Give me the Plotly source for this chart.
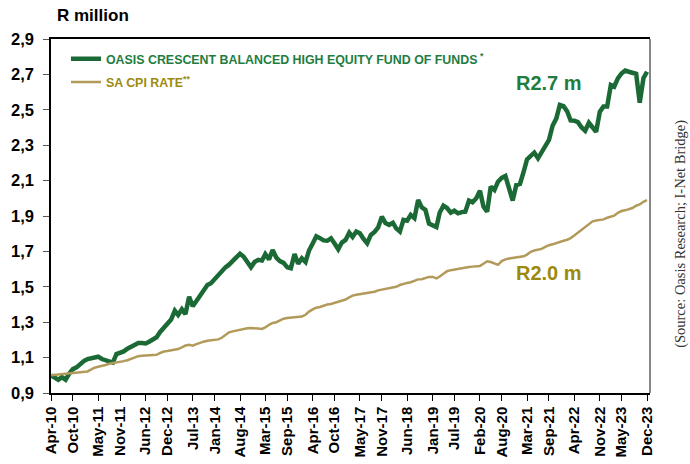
import plotly.graph_objects as go
import pandas as pd

months = pd.date_range("2010-04-01", "2023-12-01", freq="MS")

fund_values = [
    1.000, 0.985, 0.975, 0.990, 0.975, 1.010, 1.035, 1.045, 1.065, 1.080,
    1.092, 1.098, 1.102, 1.105, 1.092, 1.086, 1.078, 1.072, 1.120, 1.128,
    1.135, 1.150, 1.160, 1.172, 1.183, 1.182, 1.180, 1.190, 1.200, 1.215,
    1.245, 1.270, 1.290, 1.315, 1.365, 1.341, 1.373, 1.346, 1.444, 1.390,
    1.420, 1.450, 1.480, 1.510, 1.520, 1.545, 1.567, 1.585, 1.610, 1.625,
    1.645, 1.660, 1.687, 1.670, 1.640, 1.610, 1.640, 1.652, 1.648, 1.685,
    1.655, 1.708, 1.665, 1.645, 1.635, 1.610, 1.605, 1.685, 1.630, 1.661,
    1.640, 1.705, 1.745, 1.785, 1.775, 1.762, 1.760, 1.774, 1.745, 1.712,
    1.750, 1.765, 1.806, 1.782, 1.812, 1.802, 1.770, 1.746, 1.793, 1.810,
    1.835, 1.896, 1.860, 1.850, 1.862, 1.830, 1.812, 1.878, 1.873, 1.906,
    1.888, 1.990, 1.949, 1.934, 1.857, 1.845, 1.838, 1.920, 1.958, 1.945,
    1.919, 1.930, 1.915, 1.922, 1.924, 1.987, 1.978, 2.000, 2.043, 1.953,
    1.924, 2.066, 2.047, 2.094, 2.115, 2.126, 2.056, 1.987, 2.075, 2.081,
    2.150, 2.220, 2.240, 2.258, 2.226, 2.260, 2.290, 2.330, 2.410, 2.450,
    2.527, 2.520, 2.490, 2.440, 2.438, 2.430, 2.400, 2.382, 2.427, 2.405,
    2.376, 2.490, 2.518, 2.518, 2.640, 2.631, 2.678, 2.705, 2.722, 2.715,
    2.706, 2.703, 2.540, 2.678, 2.715,
]

cpi_values = [
    1.000, 1.002, 1.004, 1.005, 1.006, 1.008, 1.010, 1.012, 1.014, 1.018,
    1.022, 1.032, 1.043, 1.048, 1.052, 1.058, 1.065, 1.068, 1.072, 1.076,
    1.080, 1.085, 1.092, 1.100, 1.108, 1.110, 1.111, 1.113, 1.114, 1.116,
    1.126, 1.134, 1.137, 1.140, 1.145, 1.148, 1.158, 1.168, 1.172, 1.167,
    1.176, 1.185, 1.190, 1.195, 1.197, 1.200, 1.203, 1.212, 1.228, 1.243,
    1.248, 1.252, 1.258, 1.264, 1.266, 1.267, 1.267, 1.264, 1.262, 1.270,
    1.285, 1.296, 1.300, 1.310, 1.320, 1.324, 1.326, 1.328, 1.330, 1.332,
    1.342, 1.360, 1.372, 1.382, 1.386, 1.395, 1.400, 1.403, 1.410, 1.416,
    1.420, 1.428, 1.440, 1.450, 1.455, 1.458, 1.462, 1.465, 1.467, 1.472,
    1.480, 1.484, 1.488, 1.492, 1.494, 1.500, 1.510, 1.518, 1.522, 1.526,
    1.535, 1.542, 1.543, 1.550, 1.556, 1.556, 1.548, 1.558, 1.572, 1.588,
    1.594, 1.598, 1.602, 1.604, 1.608, 1.612, 1.614, 1.616, 1.618, 1.630,
    1.644, 1.640, 1.630, 1.624, 1.645, 1.655, 1.660, 1.662, 1.665, 1.668,
    1.672, 1.682, 1.698, 1.705, 1.710, 1.714, 1.725, 1.735, 1.740, 1.748,
    1.755, 1.760, 1.766, 1.775, 1.790, 1.805, 1.820, 1.835, 1.855, 1.870,
    1.874, 1.877, 1.881, 1.890, 1.898, 1.902, 1.918, 1.928, 1.932, 1.940,
    1.945, 1.958, 1.965, 1.980, 1.990,
]

tick_labels = [
    "Apr-10", "Oct-10", "May-11", "Nov-11", "Jun-12", "Dec-12", "Jul-13",
    "Jan-14", "Aug-14", "Mar-15", "Sep-15", "Apr-16", "Oct-16", "May-17",
    "Nov-17", "Jun-18", "Jan-19", "Jul-19", "Feb-20", "Aug-20", "Mar-21",
    "Sep-21", "Apr-22", "Nov-22", "May-23", "Dec-23",
]
tick_dates = [pd.to_datetime(t, format="%b-%y") for t in tick_labels]

fund_name = "OASIS CRESCENT BALANCED HIGH EQUITY FUND OF FUNDS"
cpi_name = "SA CPI RATE"

GREEN_LINE = "#1b6a36"
GREEN_TEXT = "#1e7d3f"
CPI_LINE = "#b29b5a"
CPI_TEXT = "#9c8a0c"

fig = go.Figure()
fig.add_trace(go.Scatter(
    x=months, y=fund_values, mode="lines",
    line=dict(color=GREEN_LINE, width=4.5),
    name=f"<span style='color:{GREEN_TEXT}'>{fund_name}<sup> *</sup></span>",
    legendgroup="a",
))
fig.add_trace(go.Scatter(
    x=months, y=cpi_values, mode="lines",
    line=dict(color=CPI_LINE, width=2.5),
    name=f"<span style='color:{CPI_TEXT}'>{cpi_name}<sup>**</sup></span>",
    legendgroup="b",
))

fig.update_layout(
    width=690, height=464,
    margin=dict(l=51, r=40, t=39, b=71),
    paper_bgcolor="white", plot_bgcolor="white",
    separators=",.",
    font=dict(family="Liberation Sans, Arial, sans-serif", color="black"),
    showlegend=True,
    legend=dict(
        x=0.025, y=0.985, xanchor="left", yanchor="top",
        font=dict(size=12.4, family="Liberation Sans, Arial, sans-serif", weight="bold"),
        bgcolor="rgba(0,0,0,0)", itemwidth=30, tracegroupgap=4,
        traceorder="grouped",
    ),
    xaxis=dict(
        range=[months[0], pd.Timestamp("2023-12-26")],
        tickvals=tick_dates, ticktext=tick_labels,
        tickangle=-90, ticks="outside", ticklen=6, tickcolor="black",
        tickfont=dict(size=15, weight="bold"),
        showline=True, linecolor="black", linewidth=1.5, mirror=True,
        showgrid=False, zeroline=False, automargin=False,
    ),
    yaxis=dict(
        range=[0.9, 2.9], tick0=0.9, dtick=0.2, tickformat=".1f",
        ticks="outside", ticklen=6, tickcolor="#555",
        tickfont=dict(size=16.5, weight="bold"), ticklabelstandoff=6,
        showline=True, linecolor="black", linewidth=1.5,
        showgrid=False, zeroline=False, automargin=False,
    ),
    shapes=[dict(type="line", xref="paper", yref="paper", x0=1, x1=1, y0=0, y1=1,
                 line=dict(color="#888", width=2))],
    annotations=[
        dict(text="<b>R million</b>", xref="paper", yref="paper", x=0.007, y=1.035,
             xanchor="left", yanchor="bottom", showarrow=False,
             font=dict(size=17, color="black")),
        dict(text="<b>R2.7 m</b>", xref="x", yref="y", x=pd.Timestamp("2021-09-01"), y=2.65,
             xanchor="center", yanchor="middle", showarrow=False,
             font=dict(size=20, color=GREEN_TEXT)),
        dict(text="<b>R2.0 m</b>", xref="x", yref="y", x=pd.Timestamp("2021-09-01"), y=1.58,
             xanchor="center", yanchor="middle", showarrow=False,
             font=dict(size=20, color=CPI_TEXT)),
        dict(text="(Source: Oasis Research; I-Net Bridge)", xref="paper", yref="paper",
             x=1.052, y=0.45, textangle=-90, showarrow=False,
             xanchor="center", yanchor="middle",
             font=dict(size=14.5, family="Liberation Serif, Times New Roman, serif", color="#333")),
    ],
)

fig.write_html("out.html", config={"displayModeBar": False},
               post_script="document.body.style.margin='0';")
